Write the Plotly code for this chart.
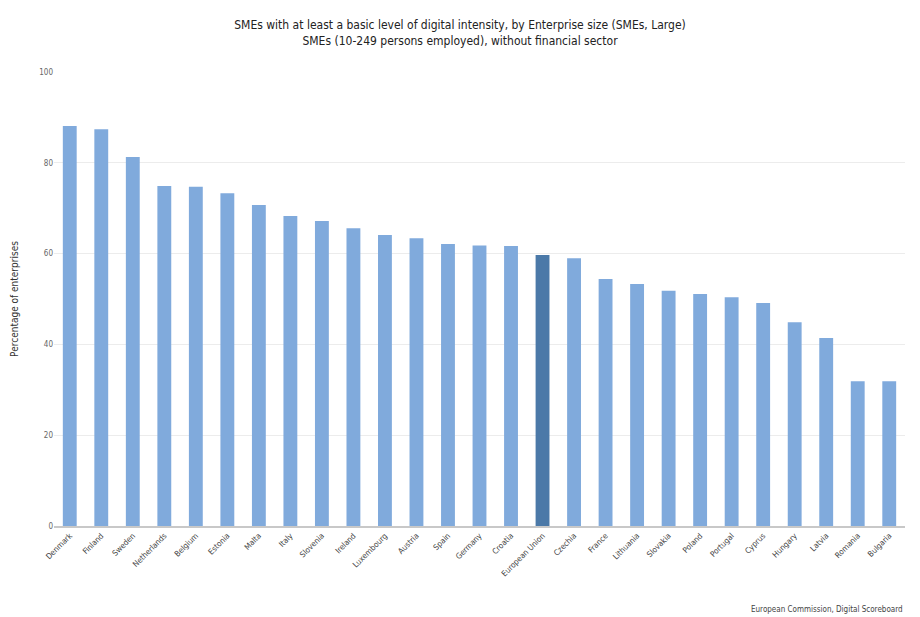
import plotly.graph_objects as go

countries = [
    "Denmark", "Finland", "Sweden", "Netherlands", "Belgium", "Estonia", "Malta",
    "Italy", "Slovenia", "Ireland", "Luxembourg", "Austria", "Spain", "Germany",
    "Croatia", "European Union", "Czechia", "France", "Lithuania", "Slovakia",
    "Poland", "Portugal", "Cyprus", "Hungary", "Latvia", "Romania", "Bulgaria",
]
values = [
    88.1, 87.4, 81.3, 74.9, 74.7, 73.3, 70.7,
    68.3, 67.2, 65.6, 64.1, 63.4, 62.1, 61.8,
    61.7, 59.7, 59.0, 54.4, 53.3, 51.8,
    51.1, 50.4, 49.1, 44.9, 41.4, 31.9, 31.9,
]
y_ticks = [0, 20, 40, 60, 80, 100]

BAR = "#80aadc"
HIGHLIGHT = "#4b79a8"
colors = [HIGHLIGHT if c == "European Union" else BAR for c in countries]

FONT = "Liberation Sans Narrow, DejaVu Sans Condensed, Arial Narrow, sans-serif"

fig = go.Figure(
    go.Bar(
        x=countries,
        y=values,
        marker=dict(color=colors, line=dict(width=0)),
        hovertemplate="%{x}: %{y:.1f}%<extra></extra>",
    )
)

fig.update_layout(
    width=920,
    height=617,
    margin=dict(l=54, r=15, t=72, b=91),
    paper_bgcolor="white",
    plot_bgcolor="white",
    bargap=0.56,
    showlegend=False,
    font=dict(family=FONT, color="#333"),
    title=dict(
        text=("SMEs with at least a basic level of digital intensity, by Enterprise size (SMEs, Large)"
              "<br>SMEs (10-249 persons employed), without financial sector"),
        x=0.5,
        xanchor="center",
        y=0.953,
        yanchor="middle",
        font=dict(family=FONT, size=12, color="#222"),
    ),
    xaxis=dict(
        tickangle=-45,
        tickfont=dict(family=FONT, size=8, color="#444"),
        showgrid=False,
        showline=True,
        linecolor="#c8c8c8",
        linewidth=2,
        ticks="",
    ),
    yaxis=dict(
        range=[0, 100],
        tickvals=y_ticks,
        tickfont=dict(family=FONT, size=8, color="#666"),
        showgrid=True,
        gridcolor="#ececec",
        gridwidth=1,
        zeroline=False,
        ticks="",
        title=dict(
            text="Percentage of enterprises",
            font=dict(family=FONT, size=10, color="#333"),
            standoff=18,
        ),
    ),
    annotations=[
        dict(
            text="European Commission, Digital Scoreboard",
            xref="paper", yref="paper",
            x=1.0, y=-0.185,
            xanchor="right", yanchor="middle",
            showarrow=False,
            font=dict(family=FONT, size=8, color="#444"),
        )
    ],
)

fig.write_html("out.html")
